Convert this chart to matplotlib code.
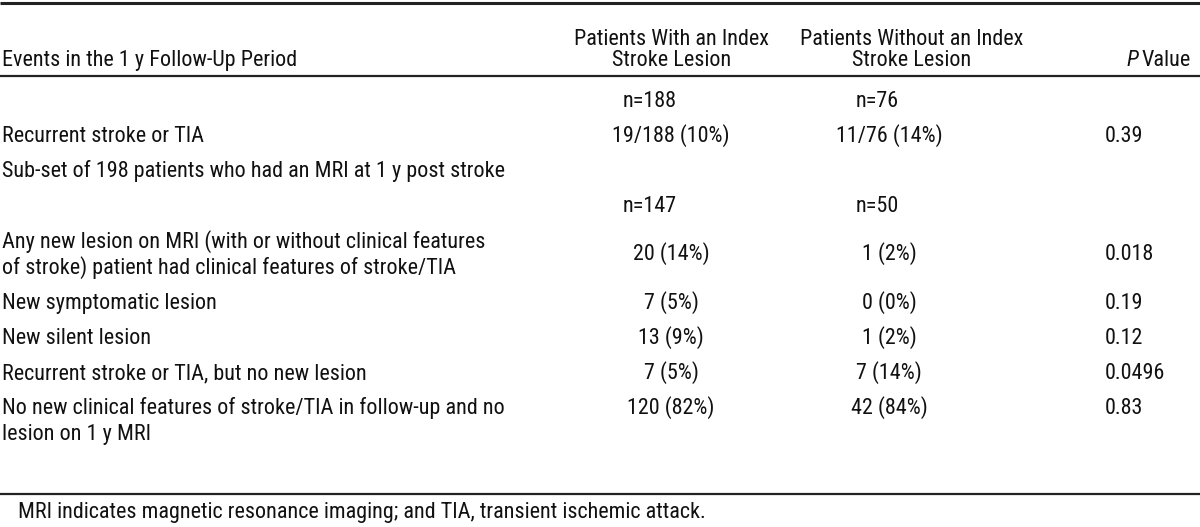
import matplotlib.pyplot as plt
from matplotlib import font_manager
from matplotlib.font_manager import FontProperties
from matplotlib.textpath import TextPath

# table content
header_events = "Events in the 1 y Follow-Up Period"
header_with = "Patients With an Index\nStroke Lesion"
header_without = "Patients Without an Index\nStroke Lesion"

row_labels = [
    "",
    "Recurrent stroke or TIA",
    "Sub-set of 198 patients who had an MRI at 1 y post stroke",
    "",
    "Any new lesion on MRI (with or without clinical features\nof stroke) patient had clinical features of stroke/TIA",
    "New symptomatic lesion",
    "New silent lesion",
    "Recurrent stroke or TIA, but no new lesion",
    "No new clinical features of stroke/TIA in follow-up and no\nlesion on 1 y MRI",
]
with_lesion = ["n=188", "19/188 (10%)", "", "n=147", "20 (14%)", "7 (5%)",
               "13 (9%)", "7 (5%)", "120 (82%)"]
without_lesion = ["n=76", "11/76 (14%)", "", "n=50", "1 (2%)", "0 (0%)",
                  "1 (2%)", "7 (14%)", "42 (84%)"]
p_values = ["", "0.39", "", "", "0.018", "0.19", "0.12", "0.0496", "0.83"]

footnote = "MRI indicates magnetic resonance imaging; and TIA, transient ischemic attack."


def pick_font(italic=False):
    # the source is set in a condensed sans; use one if the system has it
    wanted = ["roboto condensed", "liberation sans narrow", "noto sans condensed",
              "open sans condensed", "dejavu sans condensed"]
    fonts = font_manager.fontManager.ttflist
    for w in wanted:
        for f in fonts:
            tag = (f.name + " " + f.fname.split("/")[-1]).lower().replace("-", " ")
            if w.split()[0] not in tag or not ("condensed" in tag or "narrow" in tag):
                continue
            if any(b in tag for b in ("semi", "extra", "light", "medium", "bold", "black", "thin")):
                continue
            if f.weight not in (400, "normal", "regular"):
                continue
            if italic and (f.style != "normal" or "italic" in tag or "oblique" in tag):
                return FontProperties(fname=f.fname)
            if not italic and f.style == "normal" and "italic" not in tag:
                return FontProperties(fname=f.fname)
    fam = ["Liberation Sans", "DejaVu Sans"]
    return FontProperties(family=fam, style="italic" if italic else "normal")


fp = pick_font()
fp_it = pick_font(italic=True)
# size the text so the label column is about as wide as in the source
unit = TextPath((0, 0), header_events, size=100, prop=fp).get_extents().width / 100
fs = min(302 / unit * 72 / 100 * 0.965, 16.0)
fp.set_size(fs)
fp_it.set_size(fs)

LINE = 26
INK = "#111111"

fig = plt.figure(figsize=(12, 5.27), dpi=100)
ax = fig.add_axes([0, 0, 1, 1])
ax.set_xlim(0, 1200)
ax.set_ylim(527, 0)
ax.axis("off")

# rules
ax.plot([0, 1200], [3, 3], color="#222222", lw=2.2, solid_capstyle="butt")
ax.plot([0, 1200], [76, 76], color="#222222", lw=1.6, solid_capstyle="butt")
ax.plot([0, 1200], [494, 494], color="#222222", lw=1.6, solid_capstyle="butt")

ls = LINE / (fs * 100 / 72) / 1.2

kw = dict(fontproperties=fp, color=INK, va="baseline")

# header
ax.text(2, 66, header_events, ha="left", **kw)
ax.text(672, 66, header_with, ha="center", multialignment="center", linespacing=ls, **kw)
ax.text(912, 66, header_without, ha="center", multialignment="center", linespacing=ls, **kw)
ax.text(1126, 66, "P", ha="left", fontproperties=fp_it, color=INK, va="baseline")
ax.text(1142, 66, "Value", ha="left", **kw)

# body rows (baselines)
row_y = [107, 142, 177, 212, 248, 309, 344, 379, 414]
for i, y in enumerate(row_y):
    label = row_labels[i]
    if "\n" in label:
        first, second = label.split("\n")
        ax.text(2, y, first, ha="left", **kw)
        ax.text(2, y + LINE, second, ha="left", **kw)
    elif label:
        ax.text(2, y, label, ha="left", **kw)
    # the MRI-lesion row has its numbers between the two label lines
    vy = y + 12 if i == 4 else y
    wx = 650 if with_lesion[i].startswith("n=") else 671
    ox = 877 if without_lesion[i].startswith("n=") else 889
    if with_lesion[i]:
        ax.text(wx, vy, with_lesion[i], ha="center", **kw)
    if without_lesion[i]:
        ax.text(ox, vy, without_lesion[i], ha="center", **kw)
    if p_values[i]:
        ax.text(1105, vy, p_values[i], ha="left", **kw)

ax.text(18, 518, footnote, ha="left", **kw)

fig.savefig("out.png", dpi=100)
